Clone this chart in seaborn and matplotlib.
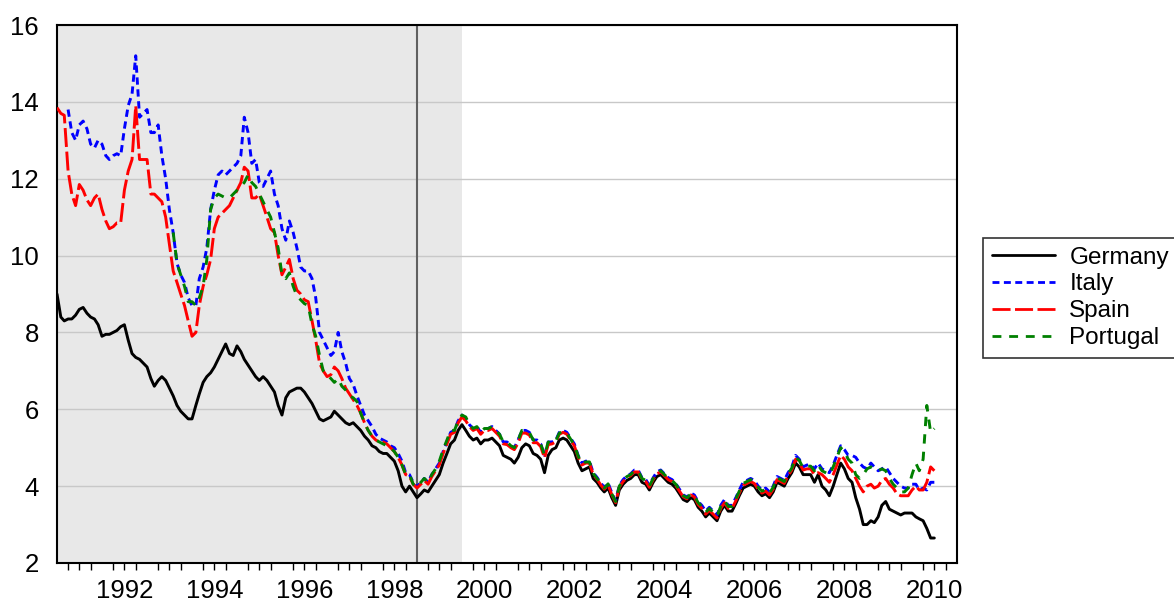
import numpy as np
import pandas as pd
import matplotlib
matplotlib.use("Agg")
import matplotlib.pyplot as plt
import matplotlib.dates as mdates
from matplotlib.ticker import NullFormatter
import seaborn as sns

# monthly 10y government bond yields, Jan 1991 - Jul 2010
dates = pd.date_range("1991-01-01", periods=235, freq="MS")

germany = [
    9.0, 8.4, 8.3, 8.35, 8.35, 8.45, 8.6, 8.65, 8.5, 8.4, 8.35, 8.2,
    7.9, 7.95, 7.95, 8.0, 8.05, 8.15, 8.2, 7.8, 7.45, 7.35, 7.3, 7.2,
    7.1, 6.8, 6.6, 6.75, 6.85, 6.75, 6.55, 6.35, 6.1, 5.95, 5.85, 5.75,
    5.75, 6.1, 6.4, 6.7, 6.85, 6.95, 7.1, 7.3, 7.5, 7.7, 7.45, 7.4,
    7.65, 7.5, 7.3, 7.15, 7.0, 6.85, 6.75, 6.85, 6.75, 6.6, 6.45, 6.1,
    5.85, 6.3, 6.45, 6.5, 6.55, 6.55, 6.45, 6.3, 6.15, 5.95, 5.75, 5.7,
    5.75, 5.8, 5.95, 5.85, 5.75, 5.65, 5.6, 5.65, 5.55, 5.45, 5.3, 5.2,
    5.05, 5.0, 4.9, 4.85, 4.85, 4.75, 4.65, 4.4, 4.0, 3.85, 4.0, 3.85,
    3.7, 3.8, 3.9, 3.85, 4.0, 4.15, 4.3, 4.6, 4.85, 5.1, 5.2, 5.45,
    5.6, 5.45, 5.3, 5.2, 5.25, 5.1, 5.2, 5.2, 5.25, 5.15, 5.05, 4.8,
    4.75, 4.7, 4.6, 4.75, 5.0, 5.1, 5.05, 4.85, 4.8, 4.7, 4.35, 4.8,
    4.95, 5.0, 5.2, 5.25, 5.2, 5.05, 4.9, 4.6, 4.4, 4.45, 4.5, 4.2,
    4.1, 3.95, 3.85, 3.95, 3.7, 3.5, 3.9, 4.05, 4.15, 4.2, 4.3, 4.3,
    4.1, 4.05, 3.9, 4.1, 4.25, 4.3, 4.2, 4.1, 4.05, 3.95, 3.8, 3.65,
    3.6, 3.7, 3.65, 3.45, 3.35, 3.2, 3.3, 3.2, 3.1, 3.35, 3.5, 3.35,
    3.35, 3.55, 3.75, 3.95, 4.0, 4.05, 4.0, 3.85, 3.75, 3.8, 3.7, 3.85,
    4.1, 4.05, 4.0, 4.2, 4.35, 4.6, 4.5, 4.3, 4.3, 4.3, 4.1, 4.3,
    4.0, 3.9, 3.75, 4.0, 4.3, 4.6, 4.45, 4.2, 4.1, 3.7, 3.4, 3.0,
    3.0, 3.1, 3.05, 3.2, 3.5, 3.6, 3.4, 3.35, 3.3, 3.25, 3.3, 3.3,
    3.3, 3.2, 3.15, 3.1, 2.9, 2.65, 2.65,
]

italy = [
    np.nan, np.nan, np.nan, 13.8, 13.2, 13.0, 13.4, 13.5, 13.3, 12.9, 12.8, 13.0,
    12.9, 12.6, 12.5, 12.6, 12.65, 12.6, 13.3, 13.9, 14.2, 15.2, 13.6, 13.7,
    13.8, 13.2, 13.2, 13.4, 12.6, 12.0, 11.2, 10.6, 9.8, 9.5, 9.3, 8.9,
    8.7, 8.7, 9.4, 9.7, 10.2, 11.2, 11.7, 12.1, 12.2, 12.1, 12.2, 12.3,
    12.4, 12.6, 13.6, 13.2, 12.4, 12.5, 11.9, 11.8, 12.0, 12.2, 11.6, 11.3,
    10.7, 10.4, 10.9, 10.6, 10.2, 9.7, 9.6, 9.6, 9.4, 8.9, 8.0, 7.8,
    7.6, 7.4, 7.5, 8.0, 7.5, 7.2, 6.8, 6.65, 6.35, 6.1, 5.85, 5.7,
    5.55, 5.35, 5.25, 5.2, 5.15, 5.05, 5.0, 4.85, 4.65, 4.35, 4.3, 4.1,
    3.98, 4.1, 4.2, 4.1, 4.3, 4.45, 4.6, 4.9, 5.15, 5.4, 5.45, 5.7,
    5.85, 5.75, 5.6, 5.5, 5.55, 5.4, 5.5, 5.5, 5.55, 5.45, 5.35, 5.15,
    5.15, 5.05, 5.0, 5.2, 5.45, 5.45, 5.4, 5.2, 5.2, 5.1, 4.8, 5.15,
    5.15, 5.2, 5.4, 5.45, 5.4, 5.25, 5.1, 4.8, 4.6, 4.65, 4.65, 4.35,
    4.23, 4.08, 3.97, 4.08, 3.83, 3.62, 4.02, 4.17, 4.27, 4.32, 4.42, 4.42,
    4.22, 4.17, 4.02, 4.22, 4.37, 4.42, 4.32, 4.22, 4.17, 4.07, 3.92, 3.77,
    3.72, 3.82, 3.77, 3.6, 3.5, 3.35, 3.45, 3.35, 3.25, 3.5, 3.65, 3.5,
    3.5, 3.7, 3.9, 4.1, 4.15, 4.2, 4.15, 4.0, 3.9, 3.95, 3.85, 4.0,
    4.25, 4.2, 4.15, 4.35, 4.5, 4.8, 4.7, 4.5, 4.55, 4.55, 4.45, 4.6,
    4.45, 4.4, 4.35, 4.55, 4.8, 5.05, 4.95, 4.8, 4.8, 4.75, 4.6, 4.5,
    4.45, 4.6, 4.5, 4.4, 4.45, 4.5, 4.35, 4.2, 4.1, 4.0, 3.95, 3.95,
    4.05, 4.05, 3.9, 3.95, 3.9, 4.1, 4.1,
]

spain = [
    13.85, 13.7, 13.65, 12.2, 11.6, 11.3, 11.85, 11.7, 11.45, 11.3, 11.5, 11.6,
    11.2, 10.9, 10.7, 10.75, 10.85, 10.85, 11.7, 12.2, 12.5, 13.9, 12.5, 12.5,
    12.5, 11.6, 11.6, 11.5, 11.4, 11.0, 10.3, 9.6, 9.3, 9.0, 8.7, 8.3,
    7.9, 8.0, 8.7, 9.2, 9.5, 9.9, 10.7, 11.0, 11.1, 11.2, 11.3, 11.5,
    11.7, 11.9, 12.3, 12.2, 11.5, 11.5, 11.6, 11.3, 11.0, 10.7, 10.6, 10.0,
    9.5, 9.7, 9.9, 9.4, 9.1, 9.0, 8.85, 8.8, 8.3, 7.8, 7.2, 7.0,
    6.85, 6.9, 7.1, 7.0, 6.8, 6.55, 6.4, 6.25, 6.1, 5.9, 5.65, 5.45,
    5.3, 5.2, 5.15, 5.15, 5.1, 5.0, 4.9, 4.75, 4.55, 4.3, 4.25, 4.05,
    3.95, 4.05, 4.15, 4.05, 4.25, 4.4, 4.55, 4.85, 5.1, 5.35, 5.4, 5.65,
    5.8, 5.7, 5.55, 5.45, 5.5, 5.35, 5.45, 5.45, 5.5, 5.4, 5.3, 5.1,
    5.08, 5.0, 4.95, 5.12, 5.38, 5.38, 5.33, 5.13, 5.13, 5.03, 4.73, 5.08,
    5.1, 5.15, 5.35, 5.4, 5.35, 5.2, 5.05, 4.75, 4.55, 4.6, 4.6, 4.3,
    4.18, 4.03, 3.92, 4.03, 3.78, 3.57, 3.97, 4.12, 4.22, 4.27, 4.37, 4.37,
    4.17, 4.12, 3.97, 4.17, 4.32, 4.37, 4.27, 4.17, 4.12, 4.02, 3.87, 3.72,
    3.67, 3.77, 3.72, 3.52, 3.42, 3.27, 3.37, 3.27, 3.17, 3.42, 3.57, 3.42,
    3.42, 3.62, 3.82, 4.02, 4.07, 4.12, 4.07, 3.92, 3.82, 3.87, 3.77, 3.92,
    4.17, 4.12, 4.07, 4.27, 4.42, 4.7, 4.6, 4.42, 4.45, 4.45, 4.3, 4.35,
    4.3, 4.2, 4.1, 4.3, 4.55, 4.8, 4.7, 4.5, 4.4, 4.2, 4.0, 3.85,
    4.0, 4.05, 3.95, 4.0, 4.15, 4.2, 4.05, 3.95, 3.8, 3.75, 3.75, 3.75,
    3.9, 4.0, 3.9, 3.9, 4.1, 4.5, 4.4,
]

portugal = [
    np.nan, np.nan, np.nan, np.nan, np.nan, np.nan, np.nan, np.nan, np.nan, np.nan, np.nan, np.nan,
    np.nan, np.nan, np.nan, np.nan, np.nan, np.nan, np.nan, np.nan, np.nan, np.nan, np.nan, np.nan,
    np.nan, np.nan, np.nan, np.nan, np.nan, np.nan, np.nan, 10.6, 9.8, 9.5, 9.2, 8.8,
    8.8, 8.7, 8.9, 9.2, 9.9, 11.2, 11.5, 11.6, 11.55, 11.5, 11.5, 11.6,
    11.7, 11.8, 11.9, 12.1, 11.9, 11.8, 11.6, 11.4, 11.2, 11.0, 10.6, 10.2,
    9.5, 9.4, 9.55, 9.2, 8.95, 8.85, 8.75, 8.7, 8.2, 7.9, 7.4, 7.0,
    6.9, 6.8, 6.7, 6.8, 6.6, 6.5, 6.35, 6.3, 6.2, 5.9, 5.65, 5.45,
    5.3, 5.2, 5.15, 5.1, 5.05, 5.0, 4.9, 4.75, 4.55, 4.3, 4.3, 4.05,
    3.98, 4.1, 4.2, 4.1, 4.3, 4.45, 4.65, 4.95, 5.2, 5.45, 5.45, 5.7,
    5.85, 5.8, 5.6, 5.5, 5.55, 5.4, 5.5, 5.5, 5.55, 5.45, 5.35, 5.15,
    5.15, 5.05, 5.0, 5.2, 5.45, 5.45, 5.4, 5.2, 5.2, 5.1, 4.8, 5.15,
    5.12, 5.18, 5.38, 5.43, 5.38, 5.22, 5.07, 4.78, 4.58, 4.63, 4.63, 4.33,
    4.2, 4.06, 3.95, 4.06, 3.8, 3.6, 4.0, 4.15, 4.25, 4.3, 4.4, 4.4,
    4.2, 4.15, 4.0, 4.2, 4.35, 4.4, 4.3, 4.2, 4.15, 4.05, 3.9, 3.75,
    3.7, 3.8, 3.75, 3.57, 3.47, 3.32, 3.42, 3.32, 3.22, 3.47, 3.62, 3.47,
    3.47, 3.67, 3.87, 4.07, 4.12, 4.17, 4.12, 3.97, 3.87, 3.92, 3.82, 3.97,
    4.22, 4.17, 4.12, 4.32, 4.47, 4.75, 4.67, 4.47, 4.52, 4.52, 4.4, 4.55,
    4.4, 4.35, 4.3, 4.5, 4.75, 5.0, 4.9, 4.7, 4.6, 4.3, 4.2, 4.3,
    4.45, 4.5, 4.45, 4.4, 4.45, 4.4, 4.2, 4.05, 3.95, 3.85, 3.85, 3.95,
    4.3, 4.6, 4.4, 4.7, 6.1, 5.4, 5.5,
]

countries = ["Germany", "Italy", "Spain", "Portugal"]
colors = {"Germany": "black", "Italy": "#0000ff", "Spain": "#ff0000", "Portugal": "#008000"}
dash_styles = {"Germany": "", "Italy": (2.5, 1.6), "Spain": (6.5, 1.6), "Portugal": (3.2, 2.8)}

df = pd.concat([
    pd.DataFrame({"date": dates, "yield": vals, "country": name})
    for name, vals in zip(countries, [germany, italy, spain, portugal])
]).dropna()

sns.set_style("white")
plt.rcParams["font.family"] = ["Liberation Sans", "DejaVu Sans"]
plt.rcParams["text.color"] = "black"
plt.rcParams["xtick.color"] = "black"
plt.rcParams["ytick.color"] = "black"

fig = plt.figure(figsize=(11.74, 6.05), dpi=100)
ax = fig.add_axes([57 / 1174, 1 - 563 / 605, 900 / 1174, 538 / 605])

# pre-EMU period shading and euro introduction line
ax.axvspan(pd.Timestamp("1991-01-01"), pd.Timestamp("2000-01-01"), color="#e8e8e8", zorder=0, lw=0)
ax.axvline(pd.Timestamp("1999-01-01"), color="#606060", lw=1.5, zorder=1)

sns.lineplot(data=df, x="date", y="yield", hue="country", style="country",
             hue_order=countries, style_order=countries, palette=colors,
             dashes=dash_styles, estimator=None, linewidth=2.1, ax=ax, zorder=3)

ax.set_xlim(pd.Timestamp("1991-01-01"), pd.Timestamp("2011-01-01"))
ax.set_ylim(2, 16)
ax.set_xlabel("")
ax.set_ylabel("")
ax.set_yticks(range(2, 17, 2))
ax.yaxis.grid(True, color="#c8c8c8", lw=1)
ax.set_axisbelow(True)

# year labels centred in even years, year ticks long, quarter ticks short
ax.xaxis.set_major_locator(mdates.YearLocator(2, month=7, day=1))
ax.xaxis.set_major_formatter(mdates.DateFormatter("%Y"))
ax.xaxis.set_minor_locator(mdates.YearLocator(1))
ax.tick_params(axis="x", which="major", length=0, pad=11.5, labelsize=18.5)
ax.tick_params(axis="x", which="minor", length=9, width=1.2, direction="out")
ax.tick_params(axis="y", which="major", length=7, width=1.2, direction="out", pad=6, labelsize=18.5)

sec = ax.secondary_xaxis("bottom")
sec.xaxis.set_major_locator(mdates.MonthLocator(bymonth=[4, 7, 10]))
sec.xaxis.set_major_formatter(NullFormatter())
sec.tick_params(axis="x", length=5, width=1, direction="out")
sec.spines["bottom"].set_visible(False)

for sp in ax.spines.values():
    sp.set_color("black")
    sp.set_linewidth(1.5)

handles, labels = ax.get_legend_handles_labels()
leg = ax.legend(handles, labels, loc="upper left", bbox_to_anchor=(983 / 1174, 1 - 238 / 605),
                bbox_transform=fig.transFigure, frameon=True, fancybox=False,
                fontsize=17.5, handlelength=2.6, labelspacing=0.2, borderpad=0.35,
                handletextpad=0.6, borderaxespad=0)
leg.get_frame().set_edgecolor("black")
leg.get_frame().set_linewidth(1.2)
for line in leg.get_lines():
    line.set_linewidth(2.0)

fig.savefig("out.png", dpi=100)
